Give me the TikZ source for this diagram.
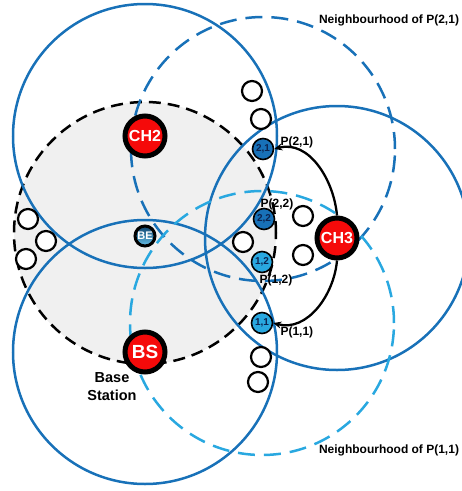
\documentclass[tikz,border=0pt]{standalone}
\usepackage{fontspec}
\setmainfont{Liberation Sans}
\usetikzlibrary{arrows.meta, positioning}

\definecolor{rangeblue}{RGB}{24,113,184}
\definecolor{nbblue}{RGB}{41,168,224}
\definecolor{zonegrey}{RGB}{240,240,240}
\definecolor{chred}{RGB}{245,10,10}
\definecolor{pidtext}{RGB}{12,35,80}

\begin{document}
\begin{tikzpicture}[
    x=1pt, y=-1pt,
    font=\bfseries,
    head/.style={circle, draw=black, line width=5pt, fill=chred, text=white, minimum size=40pt, inner sep=0pt, font=\fontsize{16}{16}\selectfont\bfseries},
    beacon/.style={circle, draw=black, line width=3pt, top color=rangeblue!60!black, bottom color=nbblue!70!white, text=white, minimum size=20pt, inner sep=0pt, font=\fontsize{11}{11}\selectfont\bfseries},
    pathnode/.style={circle, draw=black, line width=1.6pt, minimum size=21pt, inner sep=0pt, text=pidtext, font=\fontsize{10}{10}\selectfont\bfseries},
    idle/.style={circle, draw=black, line width=2.2pt, fill=white, minimum size=20pt, inner sep=0pt},
    plabel/.style={inner sep=0pt, font=\fontsize{12}{12}\selectfont\bfseries},
    rangeline/.style={draw=rangeblue, line width=2.5pt},
    nbline/.style={line width=2.5pt, dash pattern=on 17pt off 9pt},
    arrow/.style={-{Stealth[length=8pt,width=7pt]}, line width=2.3pt}
]
\useasboundingbox (0,0) rectangle (462,491);
\clip (0,0) rectangle (462,491);

% Centres
\coordinate (c_zone) at (145,233);
\coordinate (c_ch2) at (145,136);
\coordinate (c_bs) at (145,352);
\coordinate (c_ch3) at (337,238);
\coordinate (c_p21) at (263,149);
\coordinate (c_p11) at (262,323);

% Base station zone
\fill[zonegrey] (c_zone) circle[radius=131pt];
\draw[line width=2.5pt, dash pattern=on 12pt off 7pt] (c_zone) circle[radius=131pt];

% Ranges
\draw[rangeline] (c_ch2) circle[radius=132pt];
\draw[rangeline] (c_bs) circle[radius=132pt];
\draw[rangeline] (c_ch3) circle[radius=132pt];

% Neighbourhoods
\draw[nbline, rangeblue] (c_p21) circle[radius=132pt];
\draw[nbline, nbblue] (c_p11) circle[radius=132pt];

% Idle nodes
\node[idle] (n_top1) at (252,91) {};
\node[idle] (n_top2) at (261,119) {};
\node[idle] (n_left1) at (28,219) {};
\node[idle] (n_left2) at (46,241) {};
\node[idle] (n_left3) at (26,259) {};
\node[idle] (n_mid1) at (243,242) {};
\node[idle] (n_mid2) at (303,216) {};
\node[idle] (n_mid3) at (303,255) {};
\node[idle] (n_bot1) at (261,357) {};
\node[idle] (n_bot2) at (258,382) {};

% Heads and base station
\node[head] (ch2) at (c_ch2) {CH2};
\node[head] (ch3) at (c_ch3) {CH3};
\node[head, font=\fontsize{19}{19}\selectfont\bfseries] (bs) at (c_bs) {BS};
\node[beacon] (be) at (145,236) {BE};
\node[align=center, inner sep=0pt, font=\fontsize{14.5}{18}\selectfont\bfseries, below=-2pt of bs, xshift=-33pt] (bs_label) {Base\\Station};

% Path nodes
\node[pathnode, fill=rangeblue] (p_21) at (c_p21) {2,1};
\node[pathnode, fill=rangeblue] (p_22) at (264,219) {2,2};
\node[pathnode, fill=nbblue] (p_12) at (262,262) {1,2};
\node[pathnode, fill=nbblue] (p_11) at (c_p11) {1,1};

\node[plabel, right=6pt of p_21, yshift=7pt] (lbl_21) {P(2,1)};
\node[plabel, above=-2pt of p_22, xshift=13pt] (lbl_22) {P(2,2)};
\node[plabel, below=1pt of p_12, xshift=14pt] (lbl_12) {P(1,2)};
\node[plabel, right=7pt of p_11, yshift=-9pt] (lbl_11) {P(1,1)};

\node[plabel] (nb_21) at (389,20) {Neighbourhood of P(2,1)};
\node[plabel] (nb_11) at (389,450) {Neighbourhood of P(1,1)};

% Links
\draw[arrow] (ch3.north) to[out=95, in=15] (p_21.east);
\draw[arrow] (ch3.south) to[out=-95, in=-15] (p_11.east);

\end{tikzpicture}
\end{document}
